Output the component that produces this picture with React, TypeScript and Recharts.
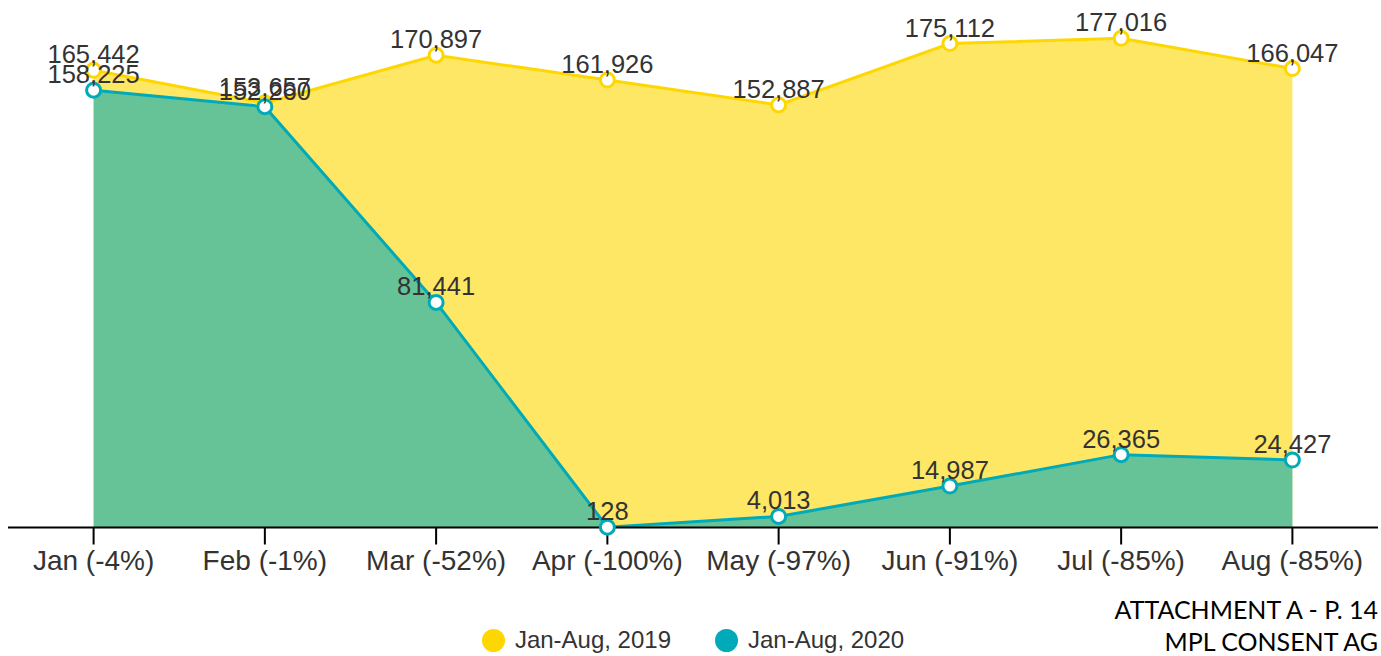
import React from 'react';
import { AreaChart, Area, XAxis, YAxis, LabelList } from 'recharts';

// monthly totals, 2019 vs 2020 (label shows yoy change)
const months = ['Jan (-4%)', 'Feb (-1%)', 'Mar (-52%)', 'Apr (-100%)', 'May (-97%)', 'Jun (-91%)', 'Jul (-85%)', 'Aug (-85%)'];
const values2019 = [165442, 153657, 170897, 161926, 152887, 175112, 177016, 166047];
const values2020 = [158225, 152260, 81441, 128, 4013, 14987, 26365, 24427];
const seriesNames = ['Jan-Aug, 2019', 'Jan-Aug, 2020'];
const footer = ['ATTACHMENT A - P. 14', 'MPL CONSENT AG'];

const data = months.map((m, i) => ({ month: m, y2019: values2019[i], y2020: values2020[i] }));

const YELLOW = '#FFD700';
const TEAL = '#00AAB8';
const FONT = '"Liberation Sans", Arial, sans-serif';

const fmt = (v: any) => Number(v).toLocaleString('en-US');

const App: React.FC = () => {
  const labelStyle = { fill: '#333', fontSize: 25.5, fontFamily: FONT };
  return (
    <div style={{ position: 'relative', width: 1381, height: 656, overflow: 'hidden', fontFamily: FONT }}>
      {/* drop the default body margin so the footer can reach the page edge */}
      <style>{'body{margin:0}'}</style>
      <div style={{ position: 'absolute', left: 8, top: 8 }}>
        <AreaChart width={1370} height={600} data={data} margin={{ top: 2, right: 0, bottom: 0, left: 0 }}>
          <XAxis
            dataKey="month"
            padding={{ left: 85.6, right: 85.6 }}
            height={80.5}
            axisLine={{ stroke: '#000', strokeWidth: 2 }}
            tickLine={{ stroke: '#000', strokeWidth: 2 }}
            tickSize={17}
            tickMargin={6}
            tick={{ fill: '#333', fontSize: 28, fontFamily: FONT }}
            interval={0}
          />
          <YAxis hide domain={[0, 187250]} />
          <Area
            type="linear"
            dataKey="y2019"
            stroke={YELLOW}
            strokeWidth={3}
            fill={YELLOW}
            fillOpacity={0.6}
            dot={{ r: 7, fill: '#fff', stroke: YELLOW, strokeWidth: 3, fillOpacity: 1 }}
            isAnimationActive={false}
          >
            <LabelList dataKey="y2019" position="top" offset={7} formatter={fmt} style={labelStyle} />
          </Area>
          <Area
            type="linear"
            dataKey="y2020"
            stroke={TEAL}
            strokeWidth={3}
            fill={TEAL}
            fillOpacity={0.6}
            dot={{ r: 7, fill: '#fff', stroke: TEAL, strokeWidth: 3, fillOpacity: 1 }}
            isAnimationActive={false}
          >
            <LabelList dataKey="y2020" position="top" offset={7} formatter={fmt} style={labelStyle} />
          </Area>
        </AreaChart>
      </div>

      {/* legend */}
      <div style={{ position: 'absolute', top: 626, left: 8, width: 1370, height: 28, display: 'flex', justifyContent: 'center', alignItems: 'center', fontSize: 24, color: '#333' }}>
        {[YELLOW, TEAL].map((c, i) => (
          <div key={i} style={{ display: 'flex', alignItems: 'center', marginRight: i === 0 ? 44 : 0 }}>
            <span style={{ width: 23, height: 23, borderRadius: '50%', background: c, display: 'inline-block', marginRight: 10 }} />
            <span>{seriesNames[i]}</span>
          </div>
        ))}
      </div>

      {footer.map((t, i) => (
        <div
          key={t}
          style={{ position: 'absolute', right: 3, top: 598 + i * 32, textAlign: 'right', fontFamily: 'Lato, "Open Sans", sans-serif', fontSize: 25, lineHeight: '22px', color: '#000', whiteSpace: 'nowrap' }}
        >
          {t}
        </div>
      ))}
    </div>
  );
};

export default App;
